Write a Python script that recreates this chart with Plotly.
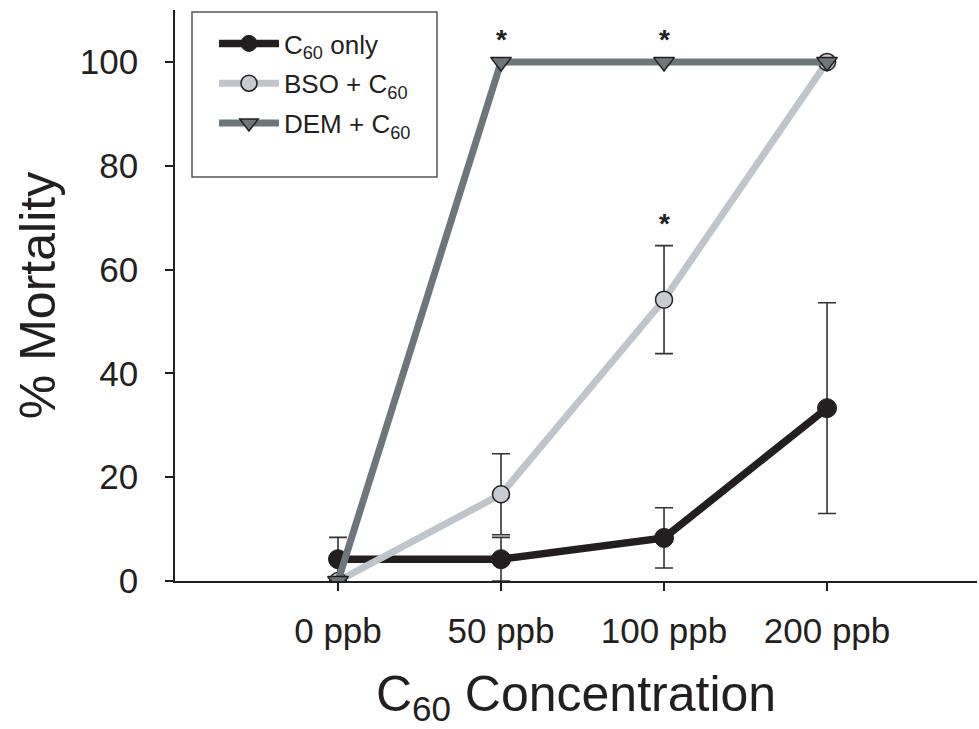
import plotly.graph_objects as go

categories = ["0 ppb", "50 ppb", "100 ppb", "200 ppb"]
c60_only = [4.2, 4.2, 8.3, 33.3]
c60_only_err = [4.2, 4.2, 5.8, 20.3]
bso_c60 = [0.0, 16.7, 54.2, 100.0]
bso_c60_err = [0.0, 7.8, 10.4, 0.0]
dem_c60 = [0.0, 100.0, 100.0, 100.0]
y_ticks = [0, 20, 40, 60, 80, 100]
# significance markers: (category, y value)
sig_x = ["50 ppb", "100 ppb", "100 ppb"]
sig_y = [100.0, 100.0, 64.6]

FONT = "Liberation Sans, Arial, sans-serif"
TXT = "#231f20"

fig = go.Figure()
fig.add_trace(go.Scatter(
    x=categories, y=c60_only, name="C<sub>60</sub> only", legendgroup="a",
    mode="lines+markers",
    line=dict(color="#231f20", width=7.5),
    marker=dict(symbol="circle", size=19, color="#231f20", line=dict(color="#231f20", width=1)),
    error_y=dict(type="data", array=c60_only_err, visible=True, color="#333333", thickness=1.6, width=9),
))
fig.add_trace(go.Scatter(
    x=categories, y=bso_c60, name="BSO + C<sub>60</sub>", legendgroup="b",
    mode="lines+markers",
    line=dict(color="#c0c5cb", width=7),
    marker=dict(symbol="circle", size=17, color="#c8ccd2", line=dict(color="#231f20", width=1.5)),
    error_y=dict(type="data", array=bso_c60_err, visible=True, color="#333333", thickness=1.6, width=9),
))
fig.add_trace(go.Scatter(
    x=categories, y=dem_c60, name="DEM + C<sub>60</sub>", legendgroup="c",
    mode="lines+markers",
    line=dict(color="#6d767b", width=7),
    marker=dict(symbol="triangle-down", size=18, color="#6d767b", line=dict(color="#231f20", width=1.5)),
))

for sx, sy in zip(sig_x, sig_y):
    fig.add_annotation(x=sx, y=sy, text="<b>*</b>", showarrow=False, yshift=22,
                       font=dict(family=FONT, size=28, color=TXT))

# legend frame
fig.add_shape(type="rect", xref="paper", yref="paper",
              x0=0.0212, x1=0.3267, y0=0.7075, y1=0.9965,
              line=dict(color="#555555", width=1.5), fillcolor="white", layer="below")

fig.update_layout(
    width=979, height=729,
    margin=dict(l=175, r=2, t=10, b=148),
    paper_bgcolor="white", plot_bgcolor="white",
    font=dict(family=FONT, color=TXT),
    showlegend=True,
    legend=dict(
        x=0.0486, y=0.9825, xanchor="left", yanchor="top",
        borderwidth=0, bgcolor="rgba(0,0,0,0)",
        font=dict(family=FONT, size=26, color=TXT),
        traceorder="grouped", tracegroupgap=3,
        itemwidth=60,
    ),
    xaxis=dict(
        type="category", range=[-1, 3.92],
        showgrid=False, zeroline=False,
        showline=True, linecolor="#231f20", linewidth=1.5,
        ticks="outside", ticklen=8, tickwidth=1.5, tickcolor="#231f20",
        tickfont=dict(family=FONT, size=35, color=TXT),
        ticklabelstandoff=10,
        title=dict(text="C<sub>60</sub> Concentration", font=dict(family=FONT, size=50, color=TXT), standoff=27),
    ),
    yaxis=dict(
        range=[0, 110], tickvals=y_ticks,
        showgrid=False, zeroline=False,
        showline=True, linecolor="#231f20", linewidth=1.5,
        ticks="outside", ticklen=8, tickwidth=1.5, tickcolor="#231f20",
        tickfont=dict(family=FONT, size=35, color=TXT),
        ticklabelstandoff=20,
        title=dict(text="% Mortality", font=dict(family=FONT, size=50, color=TXT), standoff=8),
    ),
)

fig.write_html("out.html")
